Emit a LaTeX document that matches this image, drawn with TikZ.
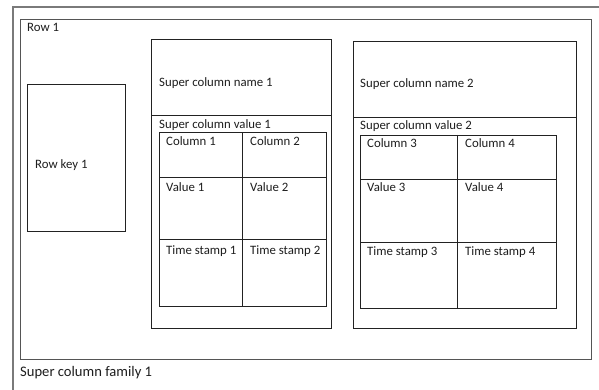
\documentclass[tikz,border=0pt]{standalone}
\usepackage{fontspec}
\setmainfont{Carlito}
\definecolor{txt}{HTML}{1E1E1E}
\definecolor{outer}{HTML}{7A7A7A}
\definecolor{rowc}{HTML}{555555}
\definecolor{inner}{HTML}{222222}
\begin{document}
\begin{tikzpicture}[x=1pt,y=-1pt,
  lbl/.style={anchor=base west,inner sep=0pt,font=\fontsize{12.8}{14}\selectfont,text=txt},
  biglbl/.style={lbl,font=\fontsize{14.6}{16}\selectfont},
  outerline/.style={draw=outer,line width=1.1pt},
  rowline/.style={draw=rowc,line width=0.9pt},
  boxline/.style={draw=inner,line width=0.8pt}]
\useasboundingbox[fill=white] (0,0) rectangle (599,390);
% outer frame (continues past right and bottom edges)
\draw[outerline] (13,390) -- (13,7) -- (599,7);
% row box
\draw[rowline] (20.7,19.3) rectangle (591.7,359);
% row key
\draw[boxline] (27.3,84) rectangle (125,231.7);
% super column 1
\draw[boxline] (151.7,39) rectangle (331.7,328);
\draw[boxline] (151.7,115.7) -- (331.7,115.7);
\draw[boxline] (159,132.7) rectangle (326,306.7);
\draw[boxline] (242.3,132.7) -- (242.3,306.7);
\draw[boxline] (159,177) -- (326,177);
\draw[boxline] (159,239.3) -- (326,239.3);
% super column 2
\draw[boxline] (353.3,41.7) rectangle (576.7,328);
\draw[boxline] (353.3,117.3) -- (576.7,117.3);
\draw[boxline] (360,135) rectangle (556,308.3);
\draw[boxline] (457.3,135) -- (457.3,308.3);
\draw[boxline] (360,179) -- (556,179);
\draw[boxline] (360,242) -- (556,242);
% labels
\node[lbl] (row) at (27,32) {Row 1};
\node[lbl] (rk) at (35,168) {Row key 1};
\node[lbl] (scn1) at (159,87) {Super column name 1};
\node[lbl] (scv1) at (159,129) {Super column value 1};
\node[lbl] (c1) at (166,146) {Column 1};
\node[lbl] (c2) at (250,146) {Column 2};
\node[lbl] (v1) at (166,191) {Value 1};
\node[lbl] (v2) at (250,191) {Value 2};
\node[lbl] (t1) at (166,254) {Time stamp 1};
\node[lbl] (t2) at (250,254) {Time stamp 2};
\node[lbl] (scn2) at (360,88) {Super column name 2};
\node[lbl] (scv2) at (360,130) {Super column value 2};
\node[lbl] (c3) at (367,148) {Column 3};
\node[lbl] (c4) at (465,148) {Column 4};
\node[lbl] (v3) at (367,192) {Value 3};
\node[lbl] (v4) at (465,192) {Value 4};
\node[lbl] (t3) at (367,255) {Time stamp 3};
\node[lbl] (t4) at (465,255) {Time stamp 4};
\node[biglbl] (scf) at (20,376) {Super column family 1};
\end{tikzpicture}
\end{document}
